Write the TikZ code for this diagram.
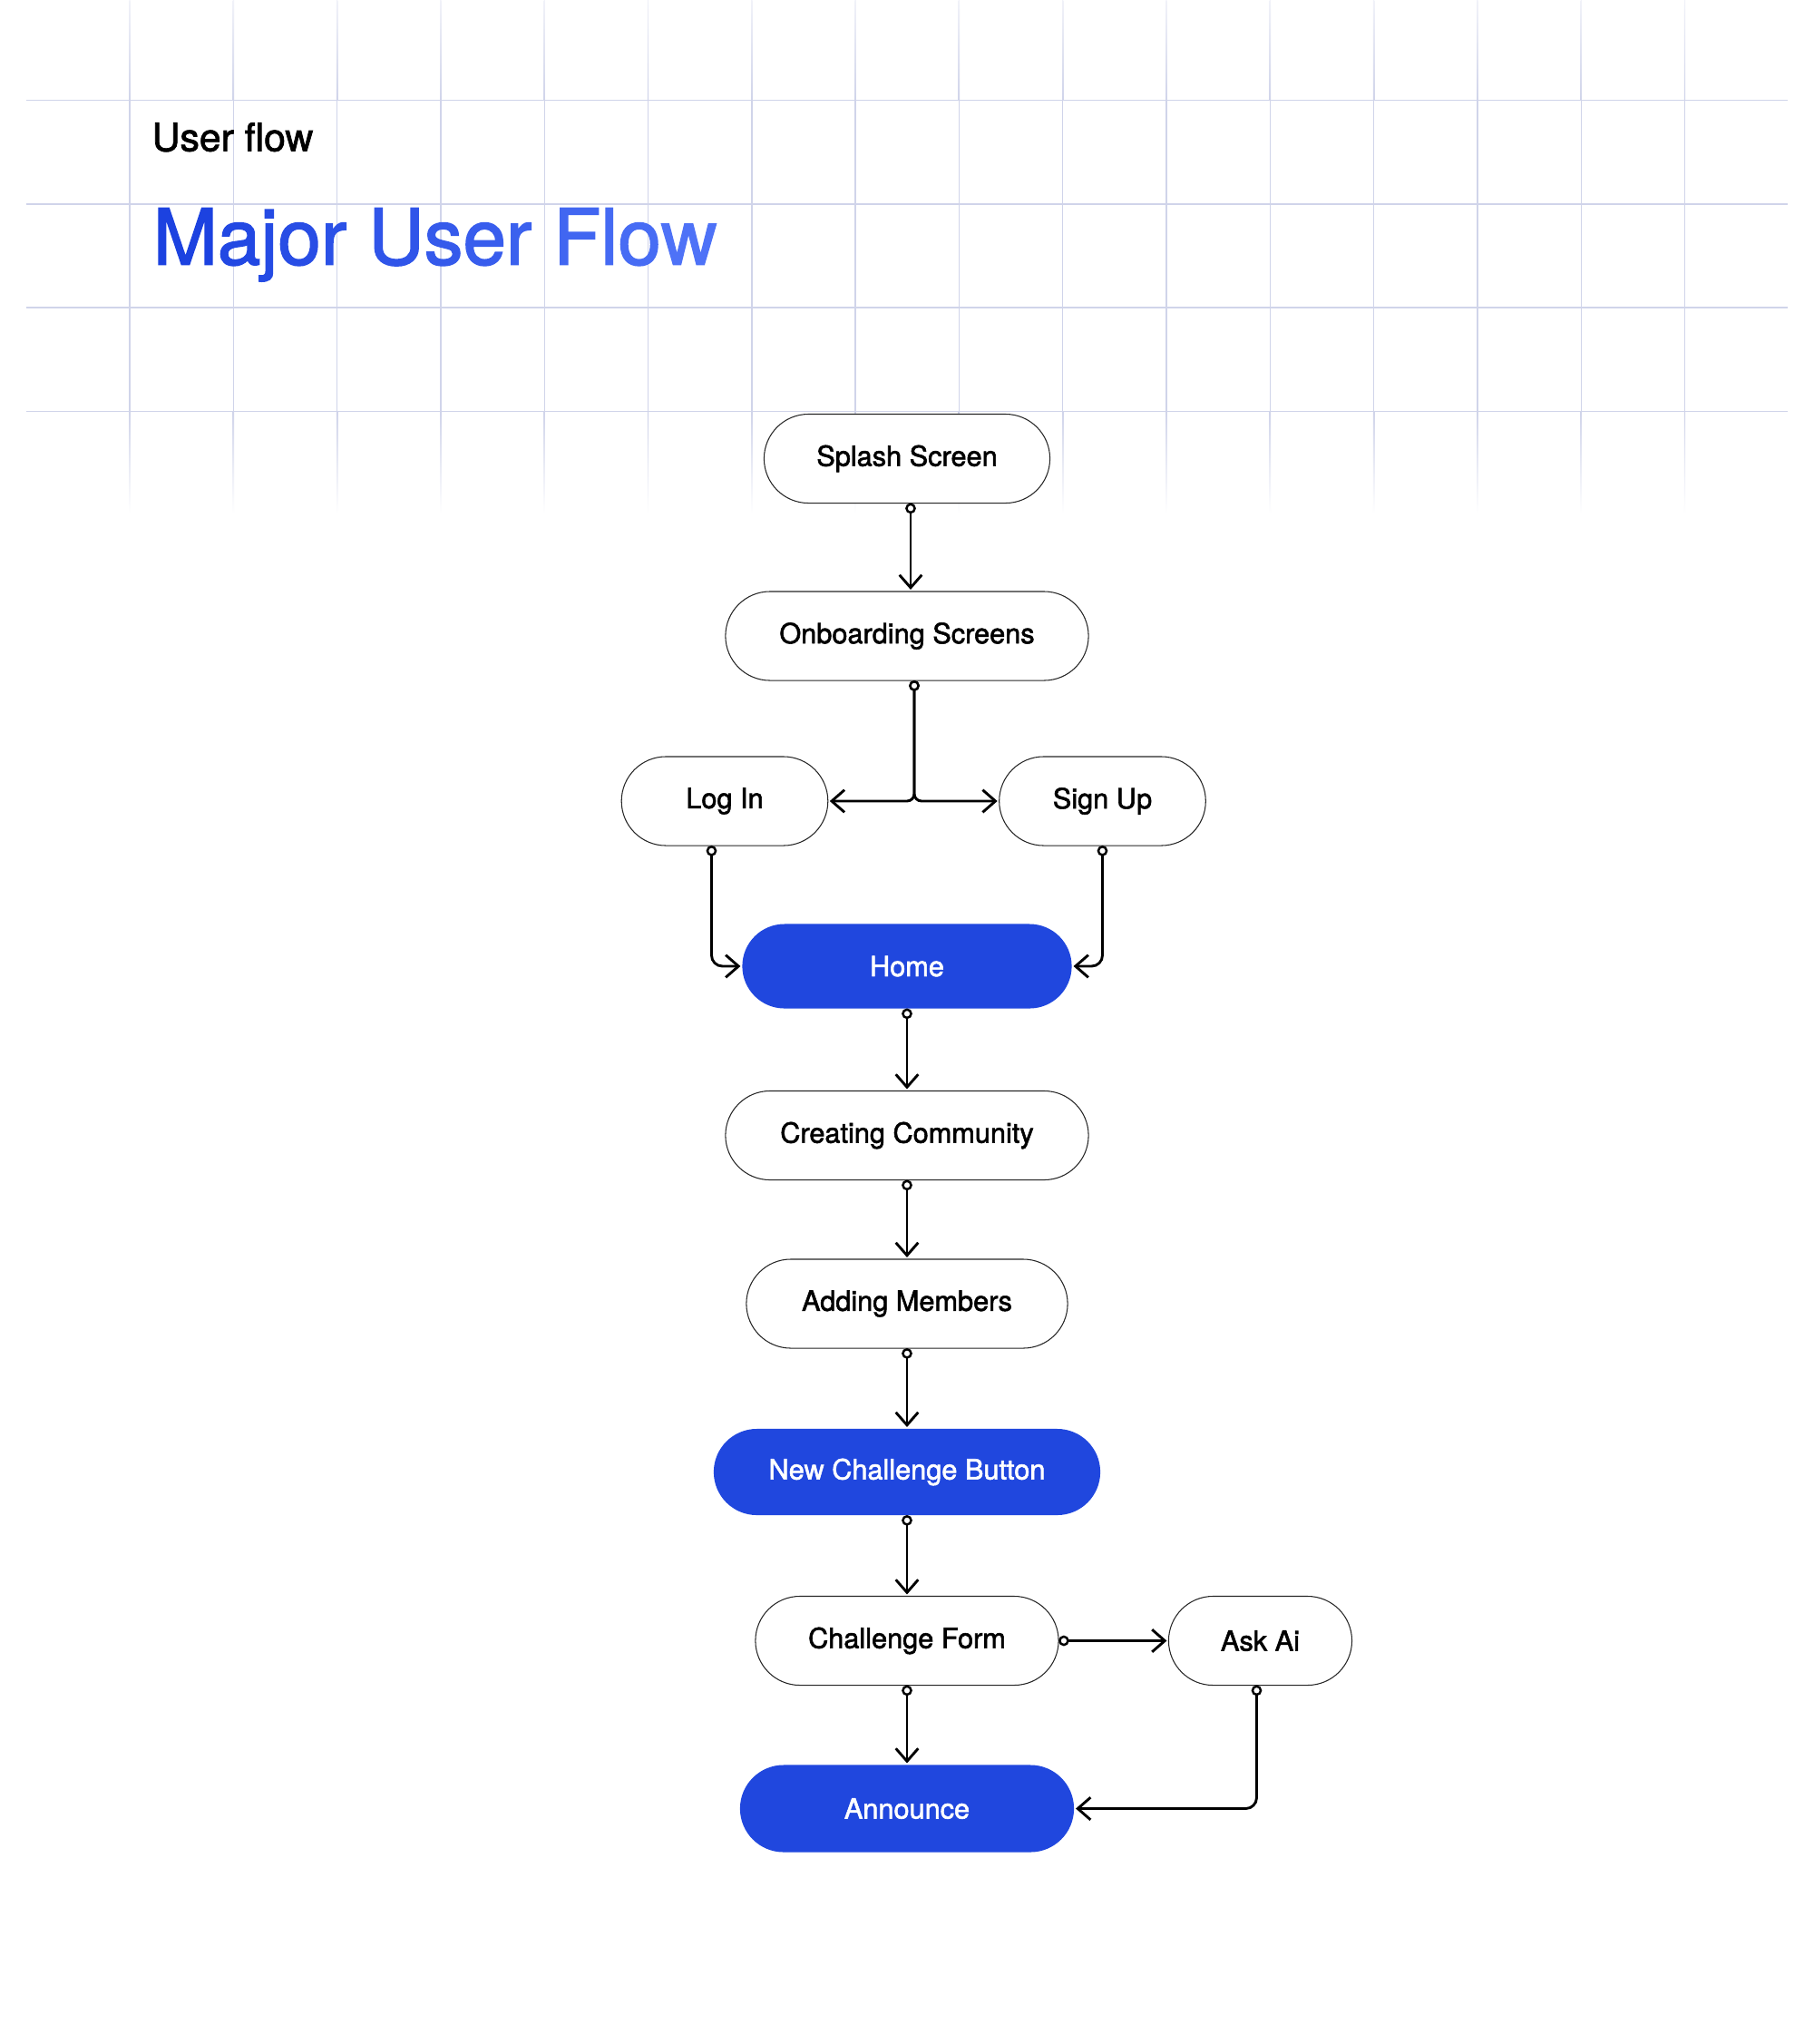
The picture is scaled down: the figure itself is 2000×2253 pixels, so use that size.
\documentclass[tikz,border=0pt]{standalone}
\usepackage{fontspec}
\setmainfont{TeX Gyre Heros}[BoldFont={TeX Gyre Heros}, BoldFeatures={FakeBold=1.8}]
\usetikzlibrary{arrows.meta}

\definecolor{gridc}{RGB}{208,212,234}
\definecolor{flowblue}{RGB}{32,71,222}
\definecolor{titleA}{RGB}{28,66,224}
\definecolor{titleB}{RGB}{80,117,248}
\newcommand{\gl}[2]{\textcolor{titleB!#1!titleA}{#2}}

\begin{document}
\begin{tikzpicture}[x=0.01cm,y=-0.01cm,
  box/.style={draw=black!85, line width=0.3pt, fill=white, rectangle,
    rounded corners=0.49cm, minimum height=0.98cm, inner sep=0pt, outer sep=0pt,
    font=\fontsize{8.73pt}{10pt}\selectfont\bfseries, text=black},
  bluebox/.style={box, draw=none, fill=flowblue, text=white,
    minimum height=0.95cm, rounded corners=0.475cm},
  conn/.style={line width=0.82pt, black,
    {Circle[fill=white,length=3.3pt,width=3.3pt,line width=0.7pt]}-{Straight Barb[length=4pt,width=7pt,line width=0.82pt]},
    shorten >=0.02cm, rounded corners=0.12cm},
  gridline/.style={gridc, line width=0.45pt}
]
% canvas
\fill[white] (0,0) rectangle (2000,2253);
\useasboundingbox (0,0) rectangle (2000,2253);

% background grid
\foreach \k in {1,...,16}{
  \pgfmathsetmacro{\xx}{28.7+114.3*\k}
  \shade[top color=gridc!30!white, bottom color=gridc] (\xx-0.7,0) rectangle (\xx+0.7,110.5);
  \fill[gridc] (\xx-0.7,110.5) rectangle (\xx+0.7,453.3);
  \shade[top color=gridc, bottom color=white] (\xx-0.7,453.3) rectangle (\xx+0.7,566);
}
\foreach \yy in {110.5,224.8,339,453.3}{
  \draw[gridline] (28.7,\yy) -- (1971,\yy);
}

% titles
\node[anchor=base west, inner sep=0pt, font=\fontsize{12.15pt}{14pt}\selectfont\bfseries] (sub) at (167,166.5) {User flow};
\node[anchor=base west, inner sep=0pt, font=\fontsize{24.3pt}{28pt}\selectfont\bfseries] (title) at (168,291.6)
  {\gl{0}{M}\gl{11}{a}\gl{18}{j}\gl{22}{o}\gl{29}{r} \gl{38}{U}\gl{47}{s}\gl{53}{e}\gl{60}{r} \gl{70}{F}\gl{78}{l}\gl{83}{o}\gl{95}{w}};

% nodes
\node[box, minimum width=3.15cm] (splash) at (1000,505.5) {Splash Screen};
\node[box, minimum width=4.00cm] (onb) at (1000,701) {Onboarding Screens};
\node[box, minimum width=2.275cm] (login) at (799,883) {Log In};
\node[box, minimum width=2.275cm] (signup) at (1215.5,883) {Sign Up};
\node[bluebox, minimum width=3.63cm, minimum height=0.93cm, rounded corners=0.465cm] (home) at (1000,1065) {Home};
\node[box, minimum width=4.00cm] (community) at (1000,1251.5) {Creating Community};
\node[box, minimum width=3.54cm] (members) at (1000,1437) {Adding Members};
\node[bluebox, minimum width=4.26cm] (newch) at (1000,1622.5) {New Challenge Button};
\node[box, minimum width=3.34cm] (form) at (1000,1808.5) {Challenge Form};
\node[box, minimum width=2.02cm] (askai) at (1389.5,1808.5) {Ask Ai};
\node[bluebox, minimum width=3.68cm, minimum height=0.96cm, rounded corners=0.48cm] (announce) at (1000,1993.5) {Announce};

% connectors
\draw[conn] ([xshift=0.04cm]splash.south) -- ([xshift=0.04cm]onb.north);
\draw[conn, rounded corners=0.08cm] ([xshift=0.08cm]onb.south) |- (login.east);
\draw[conn, rounded corners=0.08cm] ([xshift=0.08cm]onb.south) |- (signup.west);
\draw[conn] ([xshift=-0.145cm]login.south) |- (home.west);
\draw[conn] (signup.south) |- (home.east);
\draw[conn] (home.south) -- (community.north);
\draw[conn] (community.south) -- (members.north);
\draw[conn] (members.south) -- (newch.north);
\draw[conn] (newch.south) -- (form.north);
\draw[conn] (form.east) -- (askai.west);
\draw[conn] (form.south) -- (announce.north);
\draw[conn] ([xshift=-0.04cm]askai.south) |- (announce.east);
\end{tikzpicture}
\end{document}
